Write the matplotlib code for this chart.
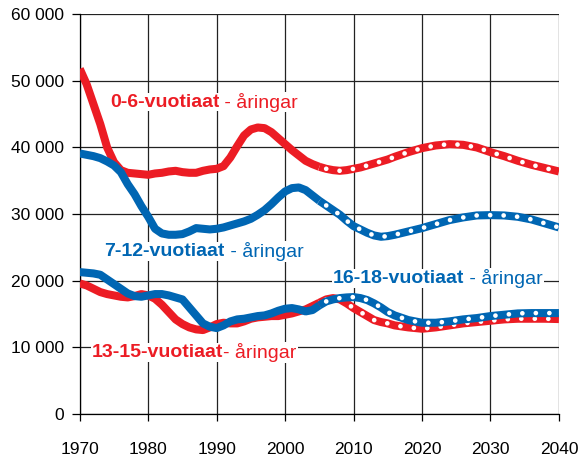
import matplotlib
matplotlib.use('Agg')
from matplotlib import pyplot as plt
from matplotlib.ticker import FuncFormatter

plt.rcParams['font.family'] = ['Liberation Sans', 'DejaVu Sans']

RED = '#ec1c24'
BLUE = '#0066b3'

# historical years 1970-2005
hist_years = list(range(1970, 2006))
# projection years 2005-2040
proj_years = [2005, 2006, 2007, 2008, 2009, 2010, 2011, 2012, 2013, 2014, 2015, 2016,
              2018, 2020, 2022, 2024, 2026, 2028, 2030, 2032, 2034, 2036, 2038, 2040]

age_0_6_hist = [51800, 49500, 46500, 43500, 40000, 37800, 36600, 36200, 36100, 36000,
                35900, 36100, 36200, 36400, 36500, 36300, 36200, 36200, 36500, 36700,
                36800, 37200, 38500, 40200, 41800, 42700, 43000, 42900, 42300, 41400,
                40500, 39600, 38800, 38000, 37500, 37100]
age_0_6_proj = [37100, 36800, 36600, 36500, 36600, 36800, 37000, 37300, 37600, 37900, 38200, 38600,
                39300, 39900, 40300, 40500, 40400, 40000, 39300, 38700, 38000, 37400, 36900, 36400]

age_7_12_hist = [39100, 38900, 38700, 38400, 37900, 37300, 36300, 34500, 33000, 31200,
                 29600, 27800, 27100, 26900, 26900, 27000, 27400, 27900, 27800, 27700,
                 27800, 28000, 28300, 28600, 28900, 29300, 29900, 30600, 31500, 32500,
                 33400, 33900, 34000, 33600, 32800, 32000]
age_7_12_proj = [32000, 31300, 30600, 29900, 29000, 28200, 27700, 27200, 26800, 26600, 26700, 26900,
                 27400, 27900, 28500, 29100, 29500, 29800, 29850, 29800, 29600, 29200, 28600, 28000]

age_13_15_hist = [19600, 19300, 18800, 18300, 18000, 17800, 17600, 17500, 17700, 18000,
                  17800, 17300, 16400, 15300, 14200, 13500, 13000, 12700, 12600, 13000,
                  13500, 13700, 13600, 13600, 13900, 14300, 14500, 14600, 14700, 14700,
                  14900, 15100, 15400, 15700, 16200, 16700]
age_13_15_proj = [16700, 17200, 17400, 17200, 16600, 15900, 15300, 14700, 14100, 13800, 13600, 13300,
                  13000, 12800, 13000, 13300, 13600, 13800, 14000, 14200, 14300, 14300, 14300, 14250]

age_16_18_hist = [21300, 21200, 21100, 20900, 20200, 19500, 18800, 18100, 17700, 17600,
                  17800, 18000, 18000, 17800, 17500, 17200, 16000, 14800, 13600, 13100,
                  12900, 13300, 13900, 14200, 14300, 14500, 14700, 14800, 15100, 15500,
                  15800, 15900, 15700, 15400, 15600, 16300]
age_16_18_proj = [16300, 16900, 17200, 17400, 17500, 17550, 17400, 17100, 16600, 16000, 15300, 14800,
                  14100, 13700, 13700, 13900, 14200, 14400, 14700, 14900, 15100, 15150, 15150, 15150]

series = [
    (age_0_6_hist, age_0_6_proj, RED, 3),
    (age_7_12_hist, age_7_12_proj, BLUE, 3),
    (age_13_15_hist, age_13_15_proj, RED, 4),
    (age_16_18_hist, age_16_18_proj, BLUE, 5),
]

fig = plt.figure(figsize=(5.78, 4.58), dpi=100)
ax = fig.add_axes([0.138, 0.096, 0.829, 0.873])

for hist, proj, col, z in series:
    ax.plot(hist_years, hist, color=col, lw=5.8, solid_capstyle='butt',
            solid_joinstyle='round', zorder=z)
    ax.plot(proj_years, proj, color=col, lw=5.8, solid_capstyle='butt',
            solid_joinstyle='round', zorder=z)
    # white dots on top of the projection
    ax.plot(proj_years[1:], proj[1:], color='white', lw=3.4, linestyle=(0, (0.01, 2.85)),
            dash_capstyle='round', zorder=z + 0.5)

ax.set_xlim(1970, 2040)
ax.set_ylim(0, 60000)
ax.set_xticks(range(1970, 2041, 10))
ax.set_yticks(range(0, 60001, 10000))
ax.yaxis.set_major_formatter(FuncFormatter(lambda v, p: f'{int(v):,}'.replace(',', ' ')))
ax.grid(True, color='#222222', lw=0.9, zorder=0)
ax.set_axisbelow(True)
for s in ['top', 'right']:
    ax.spines[s].set_visible(False)
ax.spines['left'].set_linewidth(0.9)
ax.spines['bottom'].set_linewidth(0.9)
ax.tick_params(axis='both', labelsize=12.5, colors='black', width=0.9)
ax.tick_params(axis='y', length=6, pad=5.5)
ax.tick_params(axis='x', length=5, pad=15)

bb = dict(facecolor='white', edgecolor='none', pad=0.5)
lbl = 14

def label(x, y, bold, rest, col):
    t = ax.text(x, y, bold, color=col, fontsize=lbl, fontweight='bold', va='center',
                ha='left', bbox=bb, zorder=10)
    fig.canvas.draw()
    ext = t.get_window_extent()
    x2 = ax.transData.inverted().transform((ext.x1, ext.y0))[0]
    ax.text(x2, y, rest, color=col, fontsize=lbl, va='center', ha='left', bbox=bb, zorder=10)

label(1974.4, 46800, '0-6-vuotiaat', ' - åringar', RED)
label(1973.6, 24400, '7-12-vuotiaat', ' - åringar', BLUE)
label(2007.0, 20300, '16-18-vuotiaat', ' - åringar', BLUE)
label(1971.8, 9200, '13-15-vuotiaat', '- åringar', RED)

plt.savefig('out.png', dpi=100)
